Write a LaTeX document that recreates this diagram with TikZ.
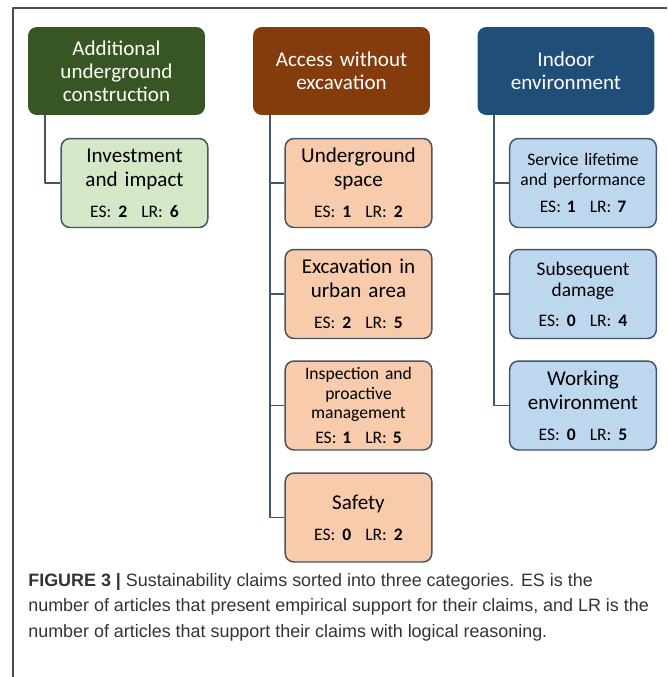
\documentclass[tikz,border=0pt]{standalone}
\usepackage{fontspec}
\setmainfont{Carlito}
\newfontfamily\capfont{Liberation Sans}
\usetikzlibrary{positioning}

\definecolor{hdgreen}{HTML}{375623}
\definecolor{hdbrown}{HTML}{843C0C}
\definecolor{hdblue}{HTML}{1F4E79}
\definecolor{ltgreen}{HTML}{D4E7C6}
\definecolor{ltorange}{HTML}{F8CBAD}
\definecolor{ltblue}{HTML}{BDD7EE}
\definecolor{slate}{HTML}{44546A}
\definecolor{captext}{HTML}{333333}

\newcommand{\claimcount}[2]{{\fontsize{10}{12}\selectfont ES: \textbf{#1}\hspace{0.8em}LR: \textbf{#2}}}

\begin{document}
\begin{tikzpicture}[x=0.02cm,y=-0.02cm,line join=round]
	\tikzset{
		header/.style={rounded corners=5pt, minimum width=3.54cm, minimum height=1.76cm,
			text width=3.3cm, align=center, text=white, font=\fontsize{12}{13}\selectfont},
		claim/.style={draw=slate, line width=0.85pt, rounded corners=5pt, minimum width=2.86cm,
			minimum height=1.78cm, text width=2.7cm, align=center, font=\fontsize{12}{13.6}\selectfont},
		smallclaim/.style={claim, font=\fontsize{10}{11.2}\selectfont},
		link/.style={draw=slate, line width=1.1pt}
	}
	\useasboundingbox (0,0) rectangle (667,677);
	\draw[black!70, line width=0.7pt] (667,8) -- (13,8) -- (13,677);

	\node[header, fill=hdgreen] (extra) at (116.5,71) {Additional\\underground\\construction};
	\node[header, fill=hdbrown] (access) at (341.5,71) {Access without\\excavation};
	\node[header, fill=hdblue] (indoor) at (566,71) {Indoor\\environment};

	\node[claim, fill=ltgreen] (invest) at (134.5,183) {Investment\\and impact\\[4pt]\claimcount{2}{6}};

	\node[claim, fill=ltorange] (space) at (358.5,183) {Underground\\space\\[4pt]\claimcount{1}{2}};
	\node[claim, fill=ltorange] (urban) at (358.5,294) {Excavation in\\urban area\\[4pt]\claimcount{2}{5}};
	\node[smallclaim, fill=ltorange] (inspect) at (358.5,405.5) {Inspection and\\proactive\\management\\[3pt]\claimcount{1}{5}};
	\node[claim, fill=ltorange] (safety) at (358.5,517.5) {Safety\\[4pt]\claimcount{0}{2}};

	\node[smallclaim, fill=ltblue] (service) at (583,183) {Service lifetime\\and performance\\[4pt]\claimcount{1}{7}};
	\node[claim, fill=ltblue] (damage) at (583,294) {\fontsize{11}{12.4}\selectfont Subsequent\\damage\\[3pt]\claimcount{0}{4}};
	\node[claim, fill=ltblue] (work) at (583,405.5) {Working\\environment\\[4pt]\claimcount{0}{5}};

	% branches
	\coordinate (extrabus) at ([xshift=0.34cm]extra.south west);
	\coordinate (accessbus) at ([xshift=0.34cm]access.south west);
	\coordinate (indoorbus) at ([xshift=0.34cm]indoor.south west);
	\draw[link] (extrabus) |- (invest.west);
	\foreach \c in {space, urban, inspect, safety}
		\draw[link] (accessbus) |- (\c.west);
	\foreach \c in {service, damage, work}
		\draw[link] (indoorbus) |- (\c.west);

	\node[anchor=north west, inner sep=0pt, align=left, text=captext,
		font=\capfont\fontsize{10.2}{14.5}\selectfont] (caption) at (28,573)
		{\textbf{FIGURE 3 |} Sustainability claims sorted into three categories. ES is the\\
		number of articles that present empirical support for their claims, and LR is the\\
		number of articles that support their claims with logical reasoning.};
\end{tikzpicture}
\end{document}
